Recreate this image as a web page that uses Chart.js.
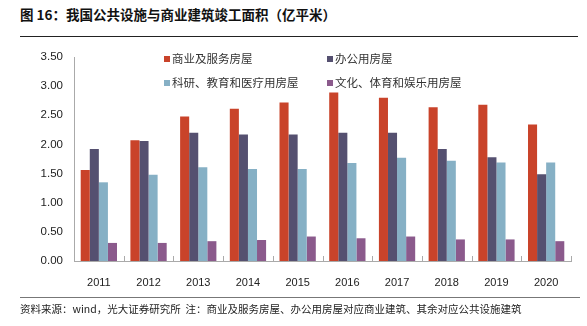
<!DOCTYPE html>
<html>
<head>
<meta charset="utf-8">
<script src="https://cdn.jsdelivr.net/npm/chart.js@4"></script>
<style>
  html, body { margin: 0; padding: 0; background: #fff; }
  #wrap { position: relative; width: 587px; height: 326px; overflow: hidden; }
  #title {
    position: absolute; left: 20px; top: 3px; width: 558px; height: 33px;
    border-bottom: 1px solid #222;
    font: bold 13.5px "Noto Sans CJK SC", sans-serif; color: #111;
    line-height: 22px;
  }
  #foot {
    position: absolute; left: 20px; top: 297px; width: 560px;
    border-top: 1px solid #777;
    font: 10.5px "Noto Sans CJK SC", sans-serif; color: #222;
    padding-top: 3px; line-height: 16px;
  }
  canvas { position: absolute; left: 0; top: 0; }
</style>
</head>
<body>
<div id="wrap">
  <div id="title">图 16：我国公共设施与商业建筑竣工面积（亿平米）</div>
  <canvas id="c" width="587" height="326"></canvas>
  <div id="foot">资料来源：wind，光大证券研究所&nbsp; 注：商业及服务房屋、办公用房屋对应商业建筑、其余对应公共设施建筑</div>
</div>
<script>
// 年份
const years = ['2011', '2012', '2013', '2014', '2015', '2016', '2017', '2018', '2019', '2020'];
// 各类房屋竣工面积（亿平米）
const commercial = [1.56, 2.07, 2.48, 2.61, 2.72, 2.89, 2.80, 2.64, 2.68, 2.34];
const office = [1.92, 2.06, 2.20, 2.17, 2.17, 2.20, 2.20, 1.92, 1.78, 1.49];
const research = [1.35, 1.48, 1.61, 1.58, 1.58, 1.68, 1.77, 1.72, 1.69, 1.69];
const culture = [0.31, 0.31, 0.34, 0.36, 0.42, 0.39, 0.42, 0.37, 0.37, 0.34];
const seriesNames = ['商业及服务房屋', '办公用房屋', '科研、教育和医疗用房屋', '文化、体育和娱乐用房屋'];
const yTicks = [0, 0.5, 1, 1.5, 2, 2.5, 3, 3.5];

const colors = ['#C9432A', '#555070', '#86B0C5', '#8B5A8C'];

// legend 2x2 drawn inside the plot
const legendPlugin = {
    id: 'gridLegend',
    afterDraw(chart) {
        const ctx = chart.ctx;
        const pos = [[164, 59], [327, 59], [164, 83], [327, 83]];
        ctx.save();
        ctx.font = '11.5px "Noto Sans CJK SC", sans-serif';
        ctx.textBaseline = 'middle';
        chart.data.datasets.forEach((ds, i) => {
            const [x, y] = pos[i];
            ctx.fillStyle = ds.backgroundColor;
            ctx.fillRect(x, y - 3, 6, 6);
            ctx.fillStyle = '#333';
            ctx.fillText(ds.label, x + 8, y);
        });
        ctx.restore();
    }
};

// short upward tick marks between categories
const xTickPlugin = {
    id: 'xTicks',
    afterDraw(chart) {
        const x = chart.scales.x;
        const ctx = chart.ctx;
        const bottom = chart.chartArea.bottom;
        const w = (x.getPixelForValue(1) - x.getPixelForValue(0));
        ctx.save();
        ctx.strokeStyle = '#aaa';
        ctx.lineWidth = 1;
        for (let i = 1; i <= years.length; i++) {
            const px = Math.round(x.getPixelForValue(i) - w / 2) + 0.5;
            ctx.beginPath();
            ctx.moveTo(px, bottom);
            ctx.lineTo(px, bottom - 5);
            ctx.stroke();
        }
        ctx.restore();
    }
};

const data = [commercial, office, research, culture];
new Chart(document.getElementById('c').getContext('2d'), {
    type: 'bar',
    data: {
        labels: years,
        datasets: data.map((d, i) => ({
            label: seriesNames[i],
            data: d,
            backgroundColor: colors[i],
            borderWidth: 0,
            categoryPercentage: 0.73,
            barPercentage: 1.0
        }))
    },
    options: {
        responsive: false,
        animation: false,
        layout: { padding: { left: 0, right: 16, top: 57, bottom: 37 } },
        plugins: { legend: { display: false }, tooltip: { enabled: false } },
        scales: {
            x: {
                grid: { display: false },
                border: { color: '#aaa', width: 1 },
                afterFit: axis => { axis.height = 28; },
                ticks: { color: '#222', font: { family: 'Liberation Sans', size: 11 }, padding: 7, maxRotation: 0 }
            },
            y: {
                min: 0, max: 3.5,
                afterBuildTicks: axis => { axis.ticks = yTicks.map(v => ({ value: v })); },
                grid: { display: false },
                border: { color: '#aaa', width: 1 },
                afterFit: axis => { axis.width = 74; },
                ticks: {
                    color: '#222', font: { family: 'Liberation Sans', size: 11.5 }, padding: 3,
                    callback: v => Number(v).toFixed(2)
                }
            }
        }
    },
    plugins: [legendPlugin, xTickPlugin]
});
</script>
</body>
</html>
